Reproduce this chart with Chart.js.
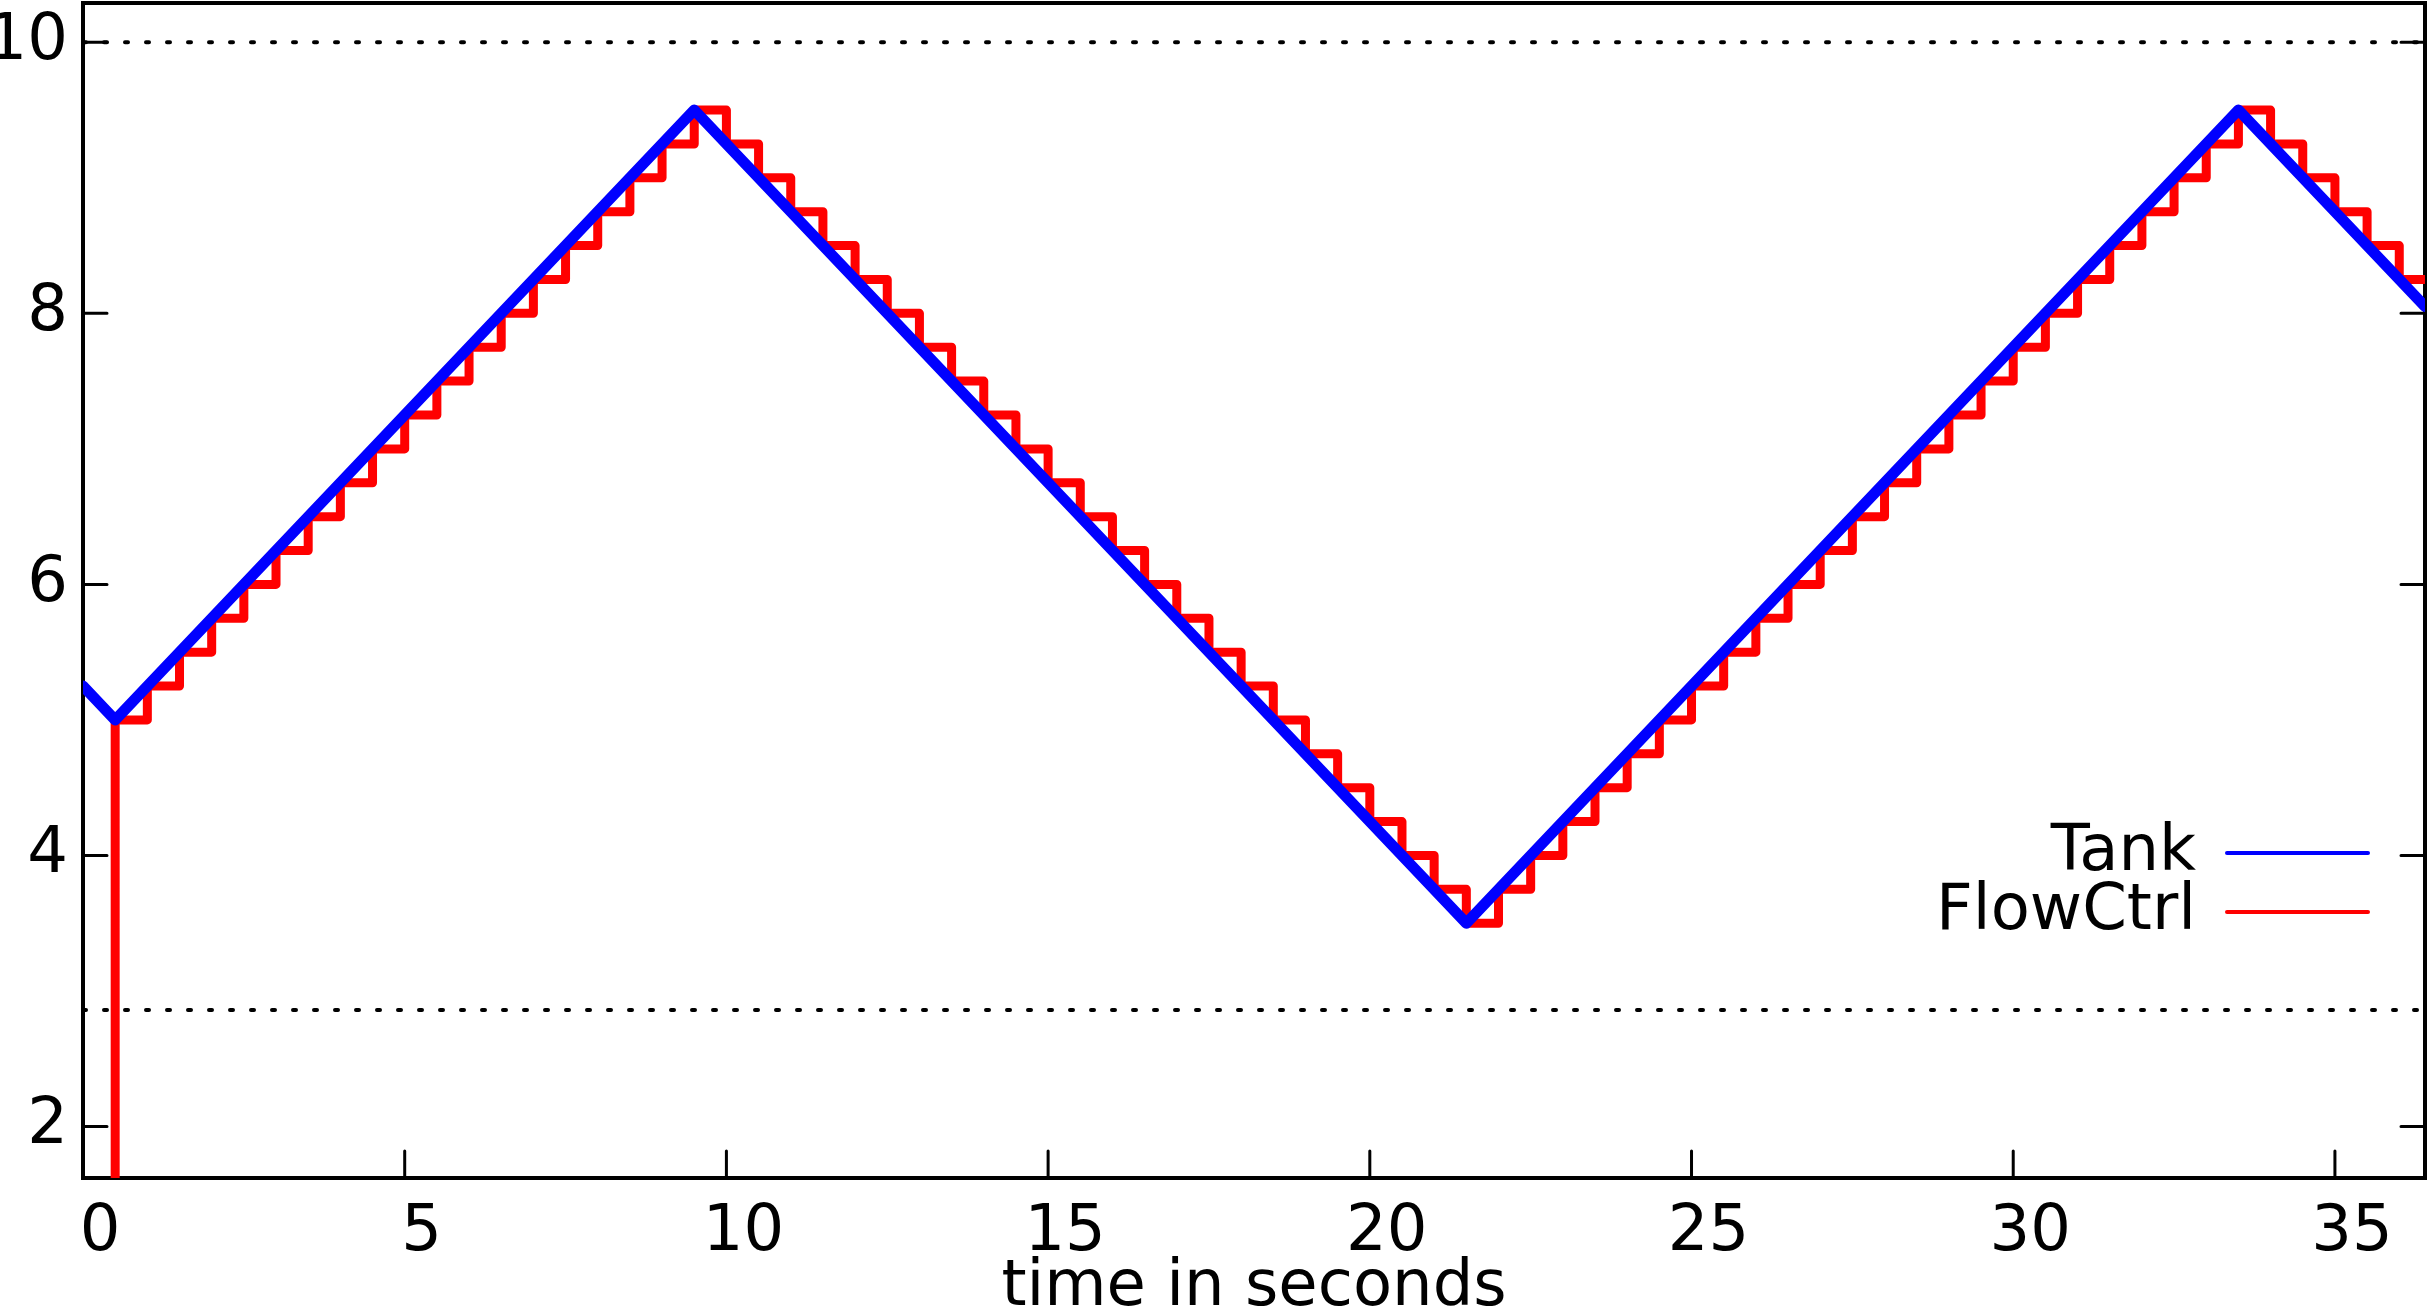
<!DOCTYPE html>
<html lang="en">
<head>
    <meta charset="UTF-8">
    <title>Tank level</title>
    <style>
        html, body { margin: 0; padding: 0; background: #fff; }
    </style>
</head>
<body>
    <canvas id="myChart" width="2431" height="1307"></canvas>

<script src="https://cdn.jsdelivr.net/npm/chart.js@4.4.1/dist/chart.umd.min.js"></script>

<script>
    // Tank level: straight segments between the turning points
    const tankTimes = [0, 0.5, 9.5, 21.5, 33.5, 36.4]
    const tankLevels = [5.25, 5.0, 9.5, 3.5, 9.5, 8.05]

    // FlowCtrl: sampled value, held for each half second
    const flowTimes = [0, 0.5, 1, 1.5, 2, 2.5, 3, 3.5, 4, 4.5, 5, 5.5, 6, 6.5, 7, 7.5, 8, 8.5, 9, 9.5,
        10, 10.5, 11, 11.5, 12, 12.5, 13, 13.5, 14, 14.5, 15, 15.5, 16, 16.5, 17, 17.5, 18, 18.5, 19, 19.5,
        20, 20.5, 21, 21.5, 22, 22.5, 23, 23.5, 24, 24.5, 25, 25.5, 26, 26.5, 27, 27.5, 28, 28.5, 29, 29.5,
        30, 30.5, 31, 31.5, 32, 32.5, 33, 33.5, 34, 34.5, 35, 35.5, 36, 36.4]
    const flowLevels = [0, 5.0, 5.25, 5.5, 5.75, 6.0, 6.25, 6.5, 6.75, 7.0, 7.25, 7.5, 7.75, 8.0, 8.25, 8.5, 8.75, 9.0, 9.25, 9.5,
        9.25, 9.0, 8.75, 8.5, 8.25, 8.0, 7.75, 7.5, 7.25, 7.0, 6.75, 6.5, 6.25, 6.0, 5.75, 5.5, 5.25, 5.0, 4.75, 4.5,
        4.25, 4.0, 3.75, 3.5, 3.75, 4.0, 4.25, 4.5, 4.75, 5.0, 5.25, 5.5, 5.75, 6.0, 6.25, 6.5, 6.75, 7.0, 7.25, 7.5,
        7.75, 8.0, 8.25, 8.5, 8.75, 9.0, 9.25, 9.5, 9.25, 9.0, 8.75, 8.5, 8.25, 8.25]

    // dotted limit lines
    const limitLevels = [10, 2.86]

    const xRange = [0, 36.4]
    const yRange = [1.62, 10.29]
    const xTicks = [0, 5, 10, 15, 20, 25, 30, 35]
    const yTicks = [2, 4, 6, 8, 10]

    const fontFamily = "'DejaVu Sans', sans-serif"

    function toPoints(xs, ys) {
        return xs.map((x, i) => ({ x: x, y: ys[i] }))
    }

    // labels never reach the frame edges, so drop the extra edge padding
    function noEdgePadding(s) {
        s.paddingTop = 0
        s.paddingBottom = 0
        s.paddingLeft = 0
        s.paddingRight = 0
    }

    const limitSets = limitLevels.map(v => ({
        data: toPoints(xRange, [v, v]),
        borderColor: '#000',
        borderWidth: 4,
        borderDash: [3, 18],
        borderCapStyle: 'round',
        pointRadius: 0,
        order: 3
    }))

    // frame with inward ticks, under the data
    const framePlugin = {
        id: 'frame',
        beforeDatasetsDraw(chart) {
            const { ctx, chartArea: a, scales } = chart
            ctx.save()
            ctx.strokeStyle = '#000'
            ctx.lineWidth = 3
            ctx.lineCap = 'round'
            ctx.beginPath()
            yTicks.forEach(v => {
                const y = scales.y.getPixelForValue(v)
                ctx.moveTo(a.left, y); ctx.lineTo(a.left + 24, y)
                ctx.moveTo(a.right, y); ctx.lineTo(a.right - 24, y)
            })
            xTicks.forEach(v => {
                const x = scales.x.getPixelForValue(v)
                ctx.moveTo(x, a.bottom); ctx.lineTo(x, a.bottom - 27)
            })
            ctx.stroke()
            ctx.lineWidth = 4
            ctx.lineCap = 'butt'
            ctx.strokeRect(a.left, a.top, a.right - a.left, a.bottom - a.top)
            ctx.restore()
        }
    }

    // gnuplot style key: text right aligned, line sample on the right
    const keyPlugin = {
        id: 'key',
        afterDraw(chart) {
            const { ctx } = chart
            const textRight = 2196
            const lineStart = 2227
            const lineEnd = 2368
            let y = 853
            ctx.save()
            ctx.font = '64px ' + fontFamily
            ctx.textAlign = 'right'
            ctx.textBaseline = 'middle'
            chart.data.datasets.forEach(ds => {
                if (!ds.label) return
                ctx.fillStyle = '#000'
                ctx.fillText(ds.label, textRight, y)
                ctx.strokeStyle = ds.borderColor
                ctx.lineWidth = 4
                ctx.lineCap = 'round'
                ctx.beginPath()
                ctx.moveTo(lineStart, y); ctx.lineTo(lineEnd, y)
                ctx.stroke()
                y += 59
            })
            ctx.restore()
        }
    }

    const myChart = new Chart('myChart', {
        type: 'line',
        data: {
            datasets: [
                {
                    label: 'Tank',
                    data: toPoints(tankTimes, tankLevels),
                    borderColor: '#0000ff',
                    borderWidth: 11,
                    borderJoinStyle: 'round',
                    borderCapStyle: 'round',
                    pointRadius: 0,
                    order: 1
                },
                {
                    label: 'FlowCtrl',
                    data: toPoints(flowTimes, flowLevels),
                    borderColor: '#ff0000',
                    borderWidth: 9,
                    stepped: 'before',
                    borderJoinStyle: 'round',
                    borderCapStyle: 'round',
                    pointRadius: 0,
                    order: 2
                },
                ...limitSets
            ]
        },
        options: {
            responsive: false,
            animation: false,
            layout: { padding: { left: 0, right: 6, top: 3, bottom: 0 } },
            plugins: {
                legend: { display: false },
                tooltip: { enabled: false }
            },
            scales: {
                x: {
                    type: 'linear',
                    min: xRange[0],
                    max: xRange[1],
                    afterBuildTicks: s => { s.ticks = xTicks.map(v => ({ value: v })) },
                    afterFit: s => { s.height = 129; noEdgePadding(s) },
                    grid: { display: false, drawTicks: false },
                    border: { display: false },
                    ticks: {
                        font: { family: fontFamily, size: 64 },
                        color: '#000',
                        padding: 17,
                        labelOffset: 17,
                        maxRotation: 0,
                        autoSkip: false
                    },
                    title: {
                        display: true,
                        text: 'time in seconds',
                        color: '#000',
                        font: { family: fontFamily, size: 64, lineHeight: 0.34 },
                        padding: { top: 0, bottom: 8 }
                    }
                },
                y: {
                    min: yRange[0],
                    max: yRange[1],
                    afterBuildTicks: s => { s.ticks = yTicks.map(v => ({ value: v })) },
                    afterFit: s => { s.width = 83; noEdgePadding(s) },
                    grid: { display: false, drawTicks: false },
                    border: { display: false },
                    ticks: {
                        font: { family: fontFamily, size: 64 },
                        color: '#000',
                        padding: 15
                    }
                }
            }
        },
        plugins: [framePlugin, keyPlugin]
    })
</script>
</body>
</html>
